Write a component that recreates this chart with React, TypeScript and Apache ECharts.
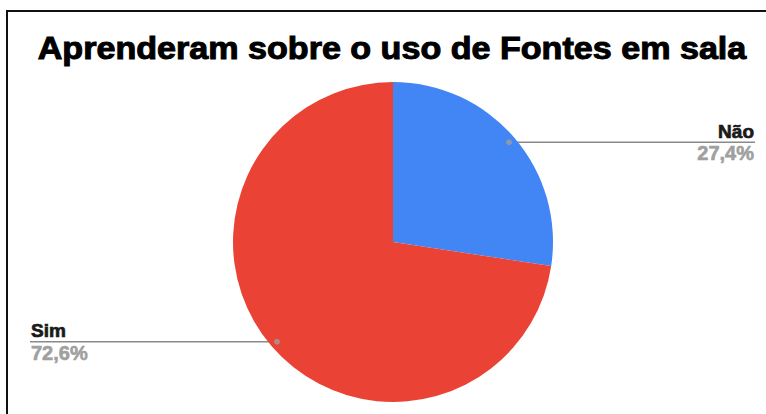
import React, { useEffect, useRef } from "react";
import * as echarts from "echarts";

const titleText = "Aprenderam sobre o uso de Fontes em sala";
const categories = ["Não", "Sim"];
const percentValues = [27.4, 72.6];
const percentLabels = ["27,4%", "72,6%"];
const sliceColors = ["#4285F4", "#EA4335"];

export default function App() {
  const ref = useRef<HTMLDivElement>(null);
  useEffect(() => {
    document.body.style.margin = "0";
    const chart = echarts.init(ref.current!, null, { renderer: "svg" });
    const cx = 393;
    const cy = 242;
    const R = 160;
    const dotInset = 7;
    const total = percentValues.reduce((a, b) => a + b, 0);
    let acc = 0;
    const mids = percentValues.map((v) => {
      const m = acc + v / 2;
      acc += v;
      return (m / total) * 100;
    });
    const option: any = {
      animation: false,
      backgroundColor: "#ffffff",
      graphic: [
        {
          type: "rect",
          silent: true,
          z: 100,
          shape: { x: 7, y: 11, width: 820, height: 520 },
          style: { fill: "none", stroke: "#111111", lineWidth: 2 },
        },
        {
          type: "text",
          silent: true,
          x: 392,
          y: 49,
          scaleX: 1.1,
          style: {
            text: titleText,
            fontFamily: "'Liberation Sans', Arial, sans-serif",
            fontWeight: "bold",
            fontSize: 31,
            fill: "#000000",
            stroke: "#000000",
            lineWidth: 1,
            textAlign: "center",
            textVerticalAlign: "middle",
          },
        },
      ],
      polar: { center: [cx, cy], radius: R },
      angleAxis: { type: "value", min: 0, max: 100, startAngle: 90, clockwise: true, show: false },
      radiusAxis: { type: "value", min: 0, max: R, show: false },
      series: [
        {
          type: "pie",
          center: [cx, cy],
          radius: R,
          startAngle: 90,
          clockwise: true,
          data: categories.map((c, i) => ({
            name: c,
            value: percentValues[i],
            itemStyle: { color: sliceColors[i] },
          })),
          label: {
            show: true,
            position: "outside",
            formatter: (p: any) => `{n|${p.name}}\n{p|${percentLabels[p.dataIndex]}}`,
            rich: {
              n: {
                fontFamily: "'Liberation Sans', Arial, sans-serif",
                fontWeight: "bold",
                fontSize: 19,
                color: "#1a1a1a",
                textBorderColor: "#1a1a1a",
                textBorderWidth: 0.7,
                lineHeight: 22,
              },
              p: {
                fontFamily: "'Liberation Sans', Arial, sans-serif",
                fontWeight: "bold",
                fontSize: 20,
                color: "#a0a0a0",
                textBorderColor: "#a0a0a0",
                textBorderWidth: 0.6,
                lineHeight: 22,
              },
            },
          },
          labelLine: { show: true, lineStyle: { color: "#8a8a8a", width: 1.5 } },
          labelLayout: (params: any) => {
            const pts = params.labelLinePoints;
            if (!pts) return {};
            const p0 = pts[0];
            const p1 = pts[1];
            const dx = p1[0] - p0[0];
            const dy = p1[1] - p0[1];
            const len = Math.hypot(dx, dy) || 1;
            const sx = p0[0] - (dx / len) * dotInset;
            const sy = p0[1] - (dy / len) * dotInset;
            const right = sx > cx;
            const endX = right ? 755 : 30;
            return {
              x: right ? 754 : 31,
              y: sy,
              align: right ? "right" : "left",
              verticalAlign: "middle",
              labelLinePoints: [
                [sx, sy],
                [(sx + endX) / 2, sy],
                [endX, sy],
              ],
            };
          },
        },
        {
          type: "scatter",
          coordinateSystem: "polar",
          data: mids.map((m) => [R - dotInset, m]),
          symbolSize: 6,
          itemStyle: { color: "#9e9e9e" },
          z: 10,
          silent: true,
        },
      ],
    };
    chart.setOption(option);
    return () => chart.dispose();
  }, []);
  return <div ref={ref} style={{ width: 766, height: 414 }} />;
}
